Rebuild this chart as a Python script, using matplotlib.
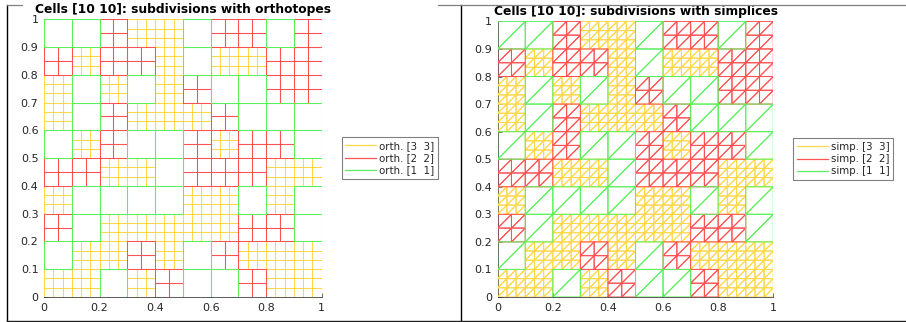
import matplotlib
matplotlib.use("Agg")
import matplotlib.pyplot as plt
from matplotlib.collections import LineCollection
from matplotlib.lines import Line2D

# Refinement level of each cell in a 10x10 grid (rows listed top to bottom)
cell_levels = [
    [1, 1, 2, 3, 3, 1, 2, 2, 1, 2],
    [2, 3, 2, 2, 3, 1, 3, 3, 2, 2],
    [3, 1, 3, 1, 3, 2, 1, 1, 2, 2],
    [3, 1, 2, 3, 3, 3, 2, 1, 1, 1],
    [1, 3, 2, 1, 1, 2, 3, 2, 2, 1],
    [2, 2, 3, 3, 1, 2, 2, 2, 3, 3],
    [3, 1, 1, 1, 1, 3, 3, 1, 3, 1],
    [2, 1, 3, 3, 3, 3, 3, 2, 2, 1],
    [1, 3, 3, 2, 3, 1, 2, 3, 3, 3],
    [3, 3, 1, 3, 2, 1, 1, 2, 3, 3],
]
grid_size = [10, 10]
levels = [3, 2, 1]
level_colors = {3: "#ffd84a", 2: "#ff5252", 1: "#5cf05c"}
x_ticks = [0, 0.2, 0.4, 0.6, 0.8, 1]
x_tick_labels = ["0", "0.2", "0.4", "0.6", "0.8", "1"]
y_ticks = [0, 0.1, 0.2, 0.3, 0.4, 0.5, 0.6, 0.7, 0.8, 0.9, 1]
y_tick_labels = ["0", "0.1", "0.2", "0.3", "0.4", "0.5", "0.6", "0.7", "0.8", "0.9", "1"]

W, H = 906, 322


def element_segments(level, simplex):
    nx, ny = grid_size
    dx, dy = 1.0 / nx, 1.0 / ny
    segs = []
    for r, row in enumerate(cell_levels):
        j = ny - 1 - r
        for i, lv in enumerate(row):
            if lv != level:
                continue
            hx, hy = dx / lv, dy / lv
            for a in range(lv):
                for b in range(lv):
                    xa, ya = i * dx + a * hx, j * dy + b * hy
                    xb, yb = xa + hx, ya + hy
                    if simplex:
                        segs.append([(xa, ya), (xb, ya), (xb, yb), (xa, ya)])
                        segs.append([(xa, ya), (xb, yb), (xa, yb), (xa, ya)])
                    else:
                        segs.append([(xa, ya), (xb, ya), (xb, yb), (xa, yb), (xa, ya)])
    return segs


def draw_panel(ax, simplex, prefix, title):
    handles = []
    for z, lv in enumerate(levels):
        lc = LineCollection(element_segments(lv, simplex), colors=level_colors[lv],
                            linewidths=0.75, zorder=2 + z)
        ax.add_collection(lc)
        handles.append(Line2D([], [], color=level_colors[lv], lw=0.9,
                              label=f"{prefix} [{lv}  {lv}]"))
    ax.set_xlim(0, 1)
    ax.set_ylim(0, 1)
    ax.set_xticks(x_ticks)
    ax.set_xticklabels(x_tick_labels)
    ax.set_yticks(y_ticks)
    ax.set_yticklabels(y_tick_labels)
    ax.tick_params(direction="in", length=3, width=0.5, color="#303030",
                   labelsize=8, labelcolor="#262626", pad=4)
    for s in ("top", "right"):
        ax.spines[s].set_visible(False)
    for s in ("left", "bottom"):
        ax.spines[s].set_linewidth(0.6)
        ax.spines[s].set_color("#404040")
        ax.spines[s].set_zorder(1)
    ax.set_title(title, fontsize=8.8, fontweight="bold", pad=4.6)
    return handles


fig = plt.figure(figsize=(W / 100, H / 100), dpi=100)

ax1 = fig.add_axes([44 / W, 25 / H, 277.7 / W, 277.7 / H])
ax2 = fig.add_axes([497.7 / W, 25 / H, 275.6 / W, 275.6 / H])

h1 = draw_panel(ax1, False, "orth.", "Cells [10 10]: subdivisions with orthotopes")
h2 = draw_panel(ax2, True, "simp.", "Cells [10 10]: subdivisions with simplices")

for handles, (lx, ly) in ((h1, (341.7, 137.3)), (h2, (793.3, 138.3))):
    leg = fig.legend(handles=handles, loc="upper left",
                     bbox_to_anchor=(lx / W, 1 - ly / H), bbox_transform=fig.transFigure,
                     borderaxespad=0, fontsize=7.4, handlelength=3.0, handletextpad=0.3,
                     labelspacing=0.22, borderpad=0.35, fancybox=False, framealpha=1)
    leg.get_frame().set_edgecolor("#808080")
    leg.get_frame().set_linewidth(0.8)
    for t in leg.get_texts():
        t.set_color("#262626")

# Window frame lines
def fline(x0, y0, x1, y1, color, lw):
    fig.add_artist(Line2D([x0 / W, x1 / W], [1 - y0 / H, 1 - y1 / H],
                          transform=fig.transFigure, color=color, lw=lw))

fline(7.3, 5, 7.3, 321, "#000000", 1.0)
fline(461, 5, 461, 321, "#000000", 1.0)
fline(7, 321, 906, 321, "#202020", 1.0)
fline(7, 5, 22, 5, "#808080", 0.9)
fline(438, 5, 906, 5, "#808080", 0.9)

fig.savefig("out.png", dpi=100)
